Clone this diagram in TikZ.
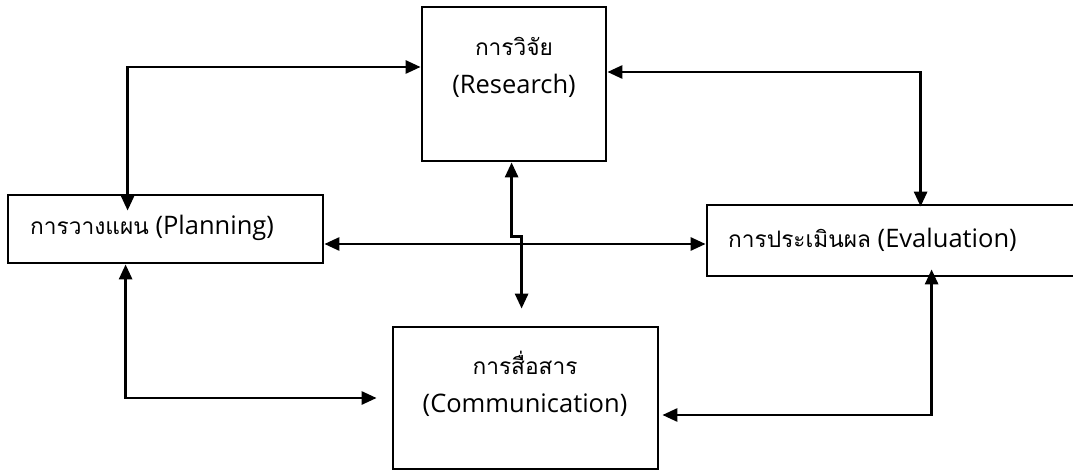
\documentclass[tikz,border=0pt]{standalone}
\usepackage{fontspec}
\setmainfont{Open Sans}
\newfontfamily\thai[Script=Thai,Scale=0.89]{Loma}
\usetikzlibrary{arrows.meta,calc}
\begin{document}
\begin{tikzpicture}[x=1pt,y=-1pt,
  box/.style={draw, line width=2.8pt, inner sep=0pt, rectangle},
  txt/.style={inner sep=0pt, font=\fontsize{25.5}{29}\selectfont},
  link/.style={line width=2.8pt,
    {Triangle[length=15pt,width=13pt]}-{Triangle[length=15pt,width=13pt]}}]
  \fill[white] (0,0) rectangle (1073,470);
  \useasboundingbox (0,0) rectangle (1073,470);

  % boxes
  \node[box, minimum width=184pt, minimum height=154pt] (R) at (514,84) {};
  \node[box, minimum width=315pt, minimum height=68pt] (P) at (165.5,229) {};
  \node[box, minimum width=383pt, minimum height=71pt] (E) at (898.5,240.5) {};
  \node[box, minimum width=265pt, minimum height=142pt] (C) at (525.5,398) {};

  % labels
  \node[txt] (Rt1) at (514,46) {\thai การวิจัย};
  \node[txt] (Rt2) at (514,86) {(Research)};
  \node[txt, anchor=west] (Pt) at (30,228) {{\thai การวางแผน} (Planning)};
  \node[txt, anchor=west] (Et) at (728,240) {{\thai การประเมินผล} (Evaluation)};
  \node[txt] (Ct1) at (525,363) {\thai การสื่อสาร};
  \node[txt] (Ct2) at (525,405) {(Communication)};

  % connectors
  \draw[link] ($(P.north west)+(121,17)$) |- ($(R.west)+(0,-17)$);
  \draw[link] ($(P.south west)+(119,0)$) |- ($(C.west)+(-15,0)$);
  \draw[link] ($(R.east)+(0,-12)$) -| ($(E.north west)+(215,3)$);
  \draw[link] ($(P.east)+(0,15)$) -- ($(E.west)+(0,3.5)$);
  \draw[link] ($(R.south west)+(91,0)$) -- ++(0,74) -- ++(10,0)
    -- ($(C.north west)+(130,-17)$);
  \draw[link] ($(E.south west)+(226,-8)$) |- ($(C.east)+(3,17)$);
\end{tikzpicture}
\end{document}
